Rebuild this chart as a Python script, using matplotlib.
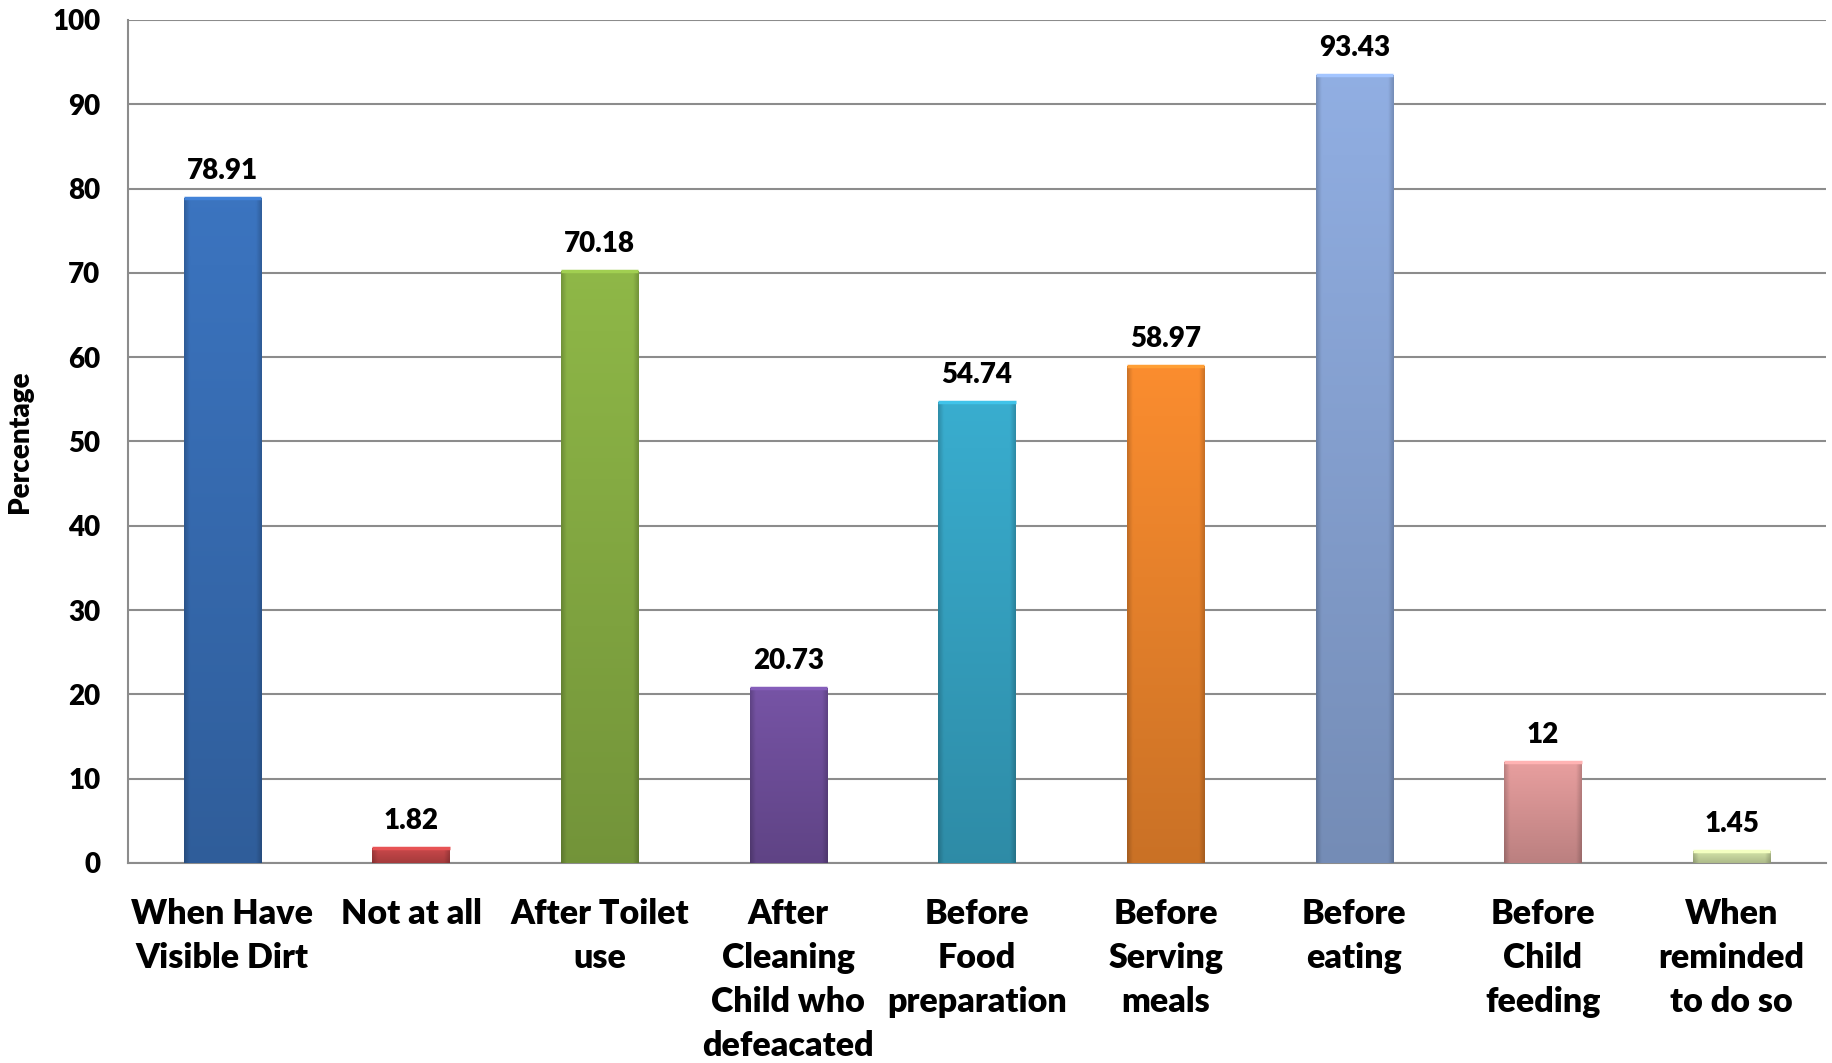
import numpy as np
import matplotlib
matplotlib.use("Agg")
from matplotlib import pyplot as plt
from matplotlib.colors import to_rgb

categories = ["When Have\nVisible Dirt", "Not at all", "After Toilet\nuse",
              "After\nCleaning\nChild who\ndefeacated", "Before\nFood\npreparation",
              "Before\nServing\nmeals", "Before\neating", "Before\nChild\nfeeding",
              "When\nreminded\nto do so"]
values = [78.91, 1.82, 70.18, 20.73, 54.74, 58.97, 93.43, 12, 1.45]
value_labels = ["78.91", "1.82", "70.18", "20.73", "54.74", "58.97", "93.43", "12", "1.45"]
colors = ["#3A72BC", "#C9484A", "#8CB446", "#7452A2", "#38AACB",
          "#F68A2E", "#8EABDE", "#E49C9C", "#D4E4A8"]
y_ticks = list(range(0, 101, 10))

plt.rcParams['font.family'] = ['Lato', 'DejaVu Sans']
plt.rcParams['font.weight'] = 'bold'

fig = plt.figure(figsize=(18.32, 10.63), dpi=100)
ax = fig.add_axes([0.0699, 0.1882, 0.9268, 0.793])

x = np.arange(len(values))
bars = ax.bar(x, values, width=0.41, color='none', edgecolor='none', zorder=3)

# shading for each bar: darker at the bottom and at the sides
ny, nx = 200, 60
ty = np.linspace(0, 1, ny)[:, None]
tx = np.linspace(0, 1, nx)[None, :]
side = np.clip(np.minimum(tx, 1 - tx) / 0.07, 0, 1)
for bar, c in zip(bars, colors):
    rgb = np.array(to_rgb(c))
    fy = 1.02 - 0.2 * ty
    fx = 0.82 + 0.18 * side
    img = np.clip(rgb[None, None, :] * (fy * fx)[:, :, None], 0, 1)
    x0 = bar.get_x()
    w = bar.get_width()
    h = bar.get_height()
    im = ax.imshow(img, extent=[x0, x0 + w, 0, h], aspect='auto',
                   origin='upper', zorder=3, interpolation='bilinear')
    im.set_clip_path(bar)
    # top highlight strip
    ax.plot([x0, x0 + w], [h, h], color=np.clip(rgb * 1.15, 0, 1),
            lw=2.5, zorder=4, solid_capstyle='butt')

for xi, v, lab in zip(x, values, value_labels):
    ax.annotate(lab, (xi, v), xytext=(0, 10), textcoords='offset points',
                ha='center', va='bottom', fontsize=20, fontweight='heavy')

ax.set_xlim(-0.5, len(values) - 0.5)
ax.set_ylim(0, 100)
ax.set_yticks(y_ticks)
ax.set_yticklabels([str(t) for t in y_ticks], fontsize=20, fontweight='heavy')
ax.set_xticks(x)
ax.set_xticklabels(categories, fontsize=24.5, fontweight='heavy', linespacing=1.46)
ax.tick_params(axis='x', length=0, pad=25)
ax.tick_params(axis='y', length=0, pad=20)
ax.grid(axis='y', color='#8c8c8c', linewidth=1.5, zorder=0)
ax.set_axisbelow(True)
for s in ['top', 'right']:
    ax.spines[s].set_visible(False)
for s in ['left', 'bottom']:
    ax.spines[s].set_color('#8c8c8c')
    ax.spines[s].set_linewidth(1.5)
ax.set_ylabel('Percentage', fontsize=20, fontweight='heavy', labelpad=14)

fig.savefig('out.png', dpi=100)
